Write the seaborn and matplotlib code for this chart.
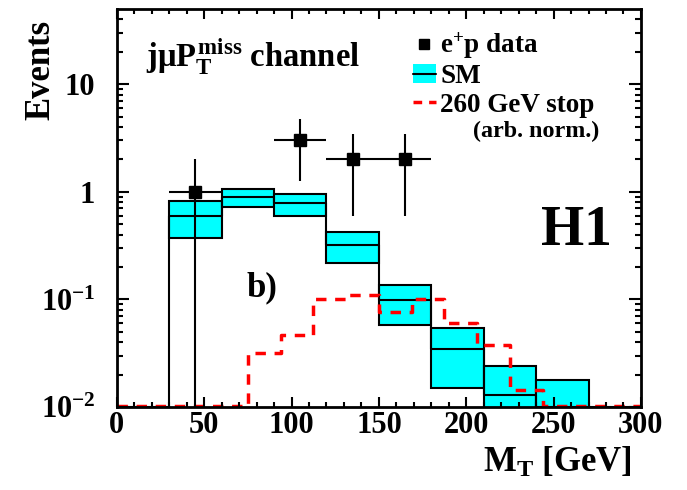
import numpy as np
import pandas as pd
import matplotlib
matplotlib.use("Agg")
import matplotlib.pyplot as plt
import seaborn as sns
from matplotlib.lines import Line2D
from matplotlib.patches import Patch
from matplotlib.ticker import FixedLocator, NullLocator

# SM expectation, 30 GeV bins from 30 to 270
sm_edges = [30, 60, 90, 120, 150, 180, 210, 240, 270]
sm_center = [0.60, 0.90, 0.78, 0.32, 0.098, 0.035, 0.0131, 0.008]
sm_low = [0.37, 0.73, 0.60, 0.22, 0.058, 0.0152, 0.005, 0.002]
sm_high = [0.82, 1.07, 0.95, 0.42, 0.135, 0.054, 0.0239, 0.0177]

# 260 GeV stop signal (arb. norm.), 16 bins over 0-300
stop_edges = [0, 18.75, 37.5, 56.25, 75, 93.75, 112.5, 131.25, 150,
              168.75, 187.5, 206.25, 225, 243.75, 262.5, 281.25, 300]
stop_vals = [0, 0, 0, 0, 0.032, 0.047, 0.10, 0.11, 0.077, 0.10, 0.060,
             0.038, 0.0145, 0, 0, 0]

# e+p data
data_x = [45, 105, 135, 165]
data_y = [1, 3, 2, 2]
data_yerr = [1.0, 1.73, 1.41, 1.41]
data_xerr = 15

# axis ticks
x_major = [0, 50, 100, 150, 200, 250, 300]
x_minor = [v for v in range(0, 301, 10) if v % 50]
y_major = [0.01, 0.1, 1, 10]
y_major_labels = ["$10^{-2}$", "$10^{-1}$", "1", "10"]
y_minor = [m * d for d in [0.01, 0.1, 1, 10] for m in range(2, 10) if m * d < 50]

ymin, ymax = 0.01, 50

sns.set_style("ticks")
plt.rcParams["font.family"] = ["Liberation Serif", "DejaVu Serif"]
plt.rcParams["mathtext.fontset"] = "custom"
plt.rcParams["mathtext.rm"] = "Liberation Serif:bold"
plt.rcParams["mathtext.it"] = "Liberation Serif:bold"
plt.rcParams["mathtext.bf"] = "Liberation Serif:bold"
for k in ["text.color", "axes.labelcolor", "xtick.color", "ytick.color", "axes.edgecolor"]:
    plt.rcParams[k] = "black"

fig = plt.figure(figsize=(6.87, 4.90), dpi=100)
ax = fig.add_axes([0.170, 0.169, 0.763, 0.813])
ax.set_yscale("log")

# SM uncertainty band
lo = np.array(sm_low)
hi = np.array(sm_high)
ax.bar(sm_edges[:-1], hi - lo, bottom=lo, width=np.diff(sm_edges), align="edge",
       color="#00ffff", edgecolor="black", linewidth=1.5, zorder=2)

# SM central value as step histogram (drops to the axis at both ends)
sm_mid = list((np.array(sm_edges[:-1]) + np.array(sm_edges[1:])) / 2)
sm_df = pd.DataFrame({
    "mt": [15.0] + sm_mid + [285.0],
    "w": np.maximum([0.0] + sm_center + [0.0], ymin * 0.999),
})
sns.histplot(data=sm_df, x="mt", weights="w", bins=[0] + sm_edges + [300],
             element="step", fill=False, color="black", ax=ax)
ax.lines[-1].set_linewidth(1.5)

# stop signal
se = np.array(stop_edges)
stop_df = pd.DataFrame({
    "mt": (se[:-1] + se[1:]) / 2,
    "w": np.maximum(stop_vals, ymin * 1.02),
})
sns.histplot(data=stop_df, x="mt", weights="w", bins=list(stop_edges),
             element="step", fill=False, color="red", ax=ax)
ax.lines[-1].set_linewidth(2.5)
ax.lines[-1].set_linestyle((0, (3, 2.5)))

# data points
ax.errorbar(data_x, data_y, xerr=data_xerr, yerr=data_yerr, fmt="s", color="black",
            ms=9, elinewidth=1.5, capsize=0, zorder=5)

ax.set_xlim(0, 300)
ax.set_ylim(ymin, ymax)
ax.set_xlabel("")
ax.set_ylabel("")

# frame
for s in ax.spines.values():
    s.set_linewidth(2)

# tick labels (tick marks drawn below as inward segments on all four sides)
ax.xaxis.set_major_locator(FixedLocator(x_major))
ax.xaxis.set_minor_locator(NullLocator())
ax.yaxis.set_major_locator(FixedLocator(y_major))
ax.set_yticklabels(y_major_labels)
ax.yaxis.set_minor_locator(NullLocator())
ax.tick_params(axis="both", which="both", direction="in", length=0,
               colors="black", labelsize=22)
ax.tick_params(axis="x", pad=3)
ax.tick_params(axis="y", pad=15.5)
for lab in ax.get_xticklabels() + ax.get_yticklabels():
    lab.set_fontweight("bold")

xtr = ax.get_xaxis_transform()
ytr = ax.get_yaxis_transform()
tick_kw = dict(colors="black", linewidth=1.5, zorder=10, clip_on=False)
for pos, L in [(x_major, 0.025), (x_minor, 0.0126)]:
    ax.vlines(pos, 0, L, transform=xtr, **tick_kw)
    ax.vlines(pos, 1 - L, 1, transform=xtr, **tick_kw)
for pos, L in [(y_major, 0.023), (y_minor, 0.0115)]:
    ax.hlines(pos, 0, L, transform=ytr, **tick_kw)
    ax.hlines(pos, 1 - L, 1, transform=ytr, **tick_kw)

# legend
handles = [
    Line2D([], [], marker="s", color="black", ls="none", ms=7),
    (Patch(facecolor="#00ffff", edgecolor="none"), Line2D([], [], color="black", lw=1.5)),
    Line2D([], [], color="red", lw=2.5, ls=(0, (2.5, 2))),
]
labels = ["e$^{+}$p data", "SM", "260 GeV stop"]
ax.legend(handles, labels, loc="upper left", bbox_to_anchor=(0.565, 0.945),
          frameon=False, prop={"size": 19.5, "weight": "bold"}, handlelength=0.85,
          handletextpad=0.15, labelspacing=0.12, borderaxespad=0, borderpad=0)
ax.text(0.679, 0.678, "(arb. norm.)", transform=ax.transAxes, fontsize=17.4,
        fontweight="bold", ha="left", va="baseline")

ax.text(0.055, 0.854, "j\u03bc$P_T^{miss}$ channel", transform=ax.transAxes,
        fontsize=23.5, fontweight="bold", ha="left", va="baseline")
ax.text(0.248, 0.279, "b)", transform=ax.transAxes, fontsize=25,
        fontweight="bold", ha="left", va="baseline")
ax.text(0.809, 0.407, "H1", transform=ax.transAxes, fontsize=40,
        fontweight="bold", ha="left", va="baseline")

fig.text(41 / 687, 1 - 70 / 490, "Events", rotation=90, ha="center", va="center",
         fontsize=25, fontweight="bold")
fig.text(632 / 687, 1 - 472 / 490, "M$_T$ [GeV]", ha="right", va="baseline",
         fontsize=25, fontweight="bold")

fig.savefig("out.png", dpi=100)
